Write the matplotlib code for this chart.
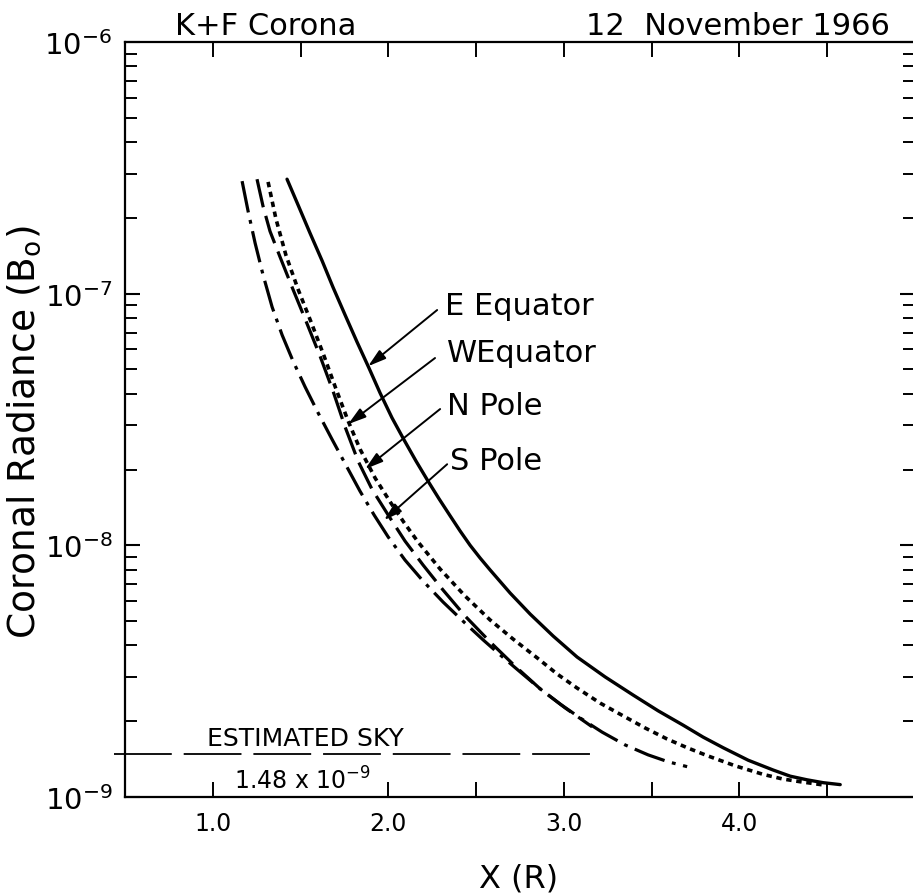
import matplotlib
matplotlib.use("Agg")
import matplotlib.pyplot as plt
from matplotlib.ticker import FixedLocator, FixedFormatter, LogLocator, NullFormatter
import numpy as np

plt.rcParams['font.family'] = ['DejaVu Sans']
plt.rcParams['mathtext.fontset'] = 'dejavusans'

# Distance from sun centre (solar radii) and K+F coronal radiance (units of B_o)
e_equator_x = [1.423, 1.486, 1.554, 1.623, 1.685, 1.754, 1.822, 1.890, 1.953, 2.021,
               2.090, 2.158, 2.226, 2.289, 2.352, 2.409, 2.466, 2.523, 2.580, 2.694,
               2.808, 2.939, 3.075, 3.235, 3.395, 3.537, 3.679, 3.793, 3.907, 4.050,
               4.192, 4.289, 4.386, 4.477, 4.574]
e_equator_y = [2.85e-7, 2.25e-7, 1.74e-7, 1.35e-7, 1.06e-7, 8.22e-8, 6.42e-8, 5.06e-8,
               4.03e-8, 3.21e-8, 2.62e-8, 2.16e-8, 1.80e-8, 1.53e-8, 1.31e-8, 1.14e-8,
               1.00e-8, 8.90e-9, 7.98e-9, 6.46e-9, 5.33e-9, 4.36e-9, 3.60e-9, 3.00e-9,
               2.54e-9, 2.20e-9, 1.93e-9, 1.73e-9, 1.57e-9, 1.40e-9, 1.28e-9, 1.21e-9,
               1.17e-9, 1.14e-9, 1.12e-9]

w_equator_x = [1.315, 1.360, 1.417, 1.486, 1.560, 1.634, 1.702, 1.771, 1.839, 1.925,
               2.010, 2.090, 2.170, 2.295, 2.437, 2.580, 2.711, 2.848, 2.962, 3.075,
               3.207, 3.338, 3.463, 3.588, 3.702, 3.816, 3.976, 4.135, 4.244, 4.346,
               4.426, 4.500]
w_equator_y = [2.78e-7, 1.98e-7, 1.42e-7, 1.04e-7, 7.71e-8, 5.65e-8, 4.18e-8, 3.12e-8,
               2.41e-8, 1.85e-8, 1.49e-8, 1.23e-8, 1.03e-8, 8.05e-9, 6.29e-9, 5.05e-9,
               4.24e-9, 3.57e-9, 3.08e-9, 2.71e-9, 2.36e-9, 2.10e-9, 1.88e-9, 1.70e-9,
               1.57e-9, 1.46e-9, 1.33e-9, 1.23e-9, 1.18e-9, 1.15e-9, 1.13e-9, 1.11e-9]

n_pole_x = [1.252, 1.286, 1.326, 1.383, 1.452, 1.531, 1.611, 1.685, 1.754, 1.828,
            1.907, 1.999, 2.095, 2.198, 2.312, 2.437, 2.580, 2.722, 2.865, 3.007, 3.161]
n_pole_y = [2.85e-7, 2.23e-7, 1.77e-7, 1.40e-7, 1.06e-7, 7.78e-8, 5.65e-8, 4.10e-8,
            2.95e-8, 2.16e-8, 1.67e-8, 1.32e-8, 1.04e-8, 8.35e-9, 6.64e-9, 5.24e-9,
            4.13e-9, 3.31e-9, 2.69e-9, 2.26e-9, 1.90e-9]

s_pole_x = [1.167, 1.201, 1.241, 1.286, 1.338, 1.395, 1.457, 1.526, 1.600, 1.679,
            1.759, 1.839, 1.919, 1.999, 2.095, 2.198, 2.312, 2.437, 2.540, 2.637,
            2.751, 2.865, 2.979, 3.093, 3.218, 3.349, 3.480, 3.594, 3.702]
s_pole_y = [2.80e-7, 2.13e-7, 1.59e-7, 1.19e-7, 8.85e-8, 6.85e-8, 5.40e-8, 4.26e-8,
            3.36e-8, 2.64e-8, 2.08e-8, 1.64e-8, 1.32e-8, 1.08e-8, 8.74e-9, 7.21e-9,
            5.95e-9, 4.91e-9, 4.21e-9, 3.67e-9, 3.14e-9, 2.69e-9, 2.34e-9, 2.06e-9,
            1.81e-9, 1.61e-9, 1.47e-9, 1.38e-9, 1.32e-9]

sky_level = 1.48e-9
sky_x = [0.44, 3.16]

x_major = [1.0, 2.0, 3.0, 4.0]
x_minor = [1.5, 2.5, 3.5, 4.5]
x_labels = ['1.0', '2.0', '3.0', '4.0']
y_major = [1e-9, 1e-8, 1e-7, 1e-6]
y_labels = [r'$10^{-9}$', r'$10^{-8}$', r'$10^{-7}$', r'$10^{-6}$']

# curve labels: text anchor, arrow tail and arrow tip (data coordinates)
labels = ['E Equator', 'WEquator', 'N Pole', 'S Pole']
label_pos = [(2.323, 8.3e-8), (2.335, 5.4e-8), (2.335, 3.33e-8), (2.352, 2.01e-8)]
arrow_tail = [(2.278, 8.61e-8), (2.266, 5.55e-8), (2.295, 3.48e-8), (2.335, 2.10e-8)]
arrow_tip = [(1.885, 5.15e-8), (1.771, 3.03e-8), (1.868, 2.01e-8), (1.976, 1.26e-8)]

W, H = 913, 895
fig = plt.figure(figsize=(W / 100, H / 100), dpi=100)
ax = fig.add_axes([125 / W, 1 - 798 / H, 790 / W, 755 / H])

ax.plot(e_equator_x, e_equator_y, color='black', lw=2.4,
        solid_capstyle='round', solid_joinstyle='round')
ax.plot(w_equator_x, w_equator_y, color='black', lw=2.6, linestyle=(0, (1.5, 1.3)))
ax.plot(n_pole_x, n_pole_y, color='black', lw=2.3, linestyle=(0, (9, 2.8)))
ax.plot(s_pole_x, s_pole_y, color='black', lw=2.3, linestyle=(0, (10, 2.4, 1.2, 2.4)))

ax.plot(sky_x, [sky_level, sky_level], color='black', lw=1.3,
        linestyle=(0, (32, 6.6)), clip_on=False)
ax.annotate('ESTIMATED SKY', xy=(1.53, sky_level), xytext=(0, 3),
            textcoords='offset points', ha='center', va='bottom', fontsize=18)
ax.annotate(r'1.48 x 10$^{-9}$', xy=(1.51, sky_level), xytext=(0, -9),
            textcoords='offset points', ha='center', va='top', fontsize=17)

for txt, pos, tail, tip in zip(labels, label_pos, arrow_tail, arrow_tip):
    ax.text(pos[0], pos[1], txt, ha='left', va='baseline', fontsize=22)
    ax.annotate('', xy=tip, xytext=tail,
                arrowprops=dict(arrowstyle='-|>,head_length=0.6,head_width=0.18',
                                color='black', lw=1.4, mutation_scale=18,
                                shrinkA=0, shrinkB=0))

ax.set_yscale('log')
ax.set_xlim(0.5, 5.0)
ax.set_ylim(1e-9, 1e-6)

ax.xaxis.set_major_locator(FixedLocator(x_major))
ax.xaxis.set_minor_locator(FixedLocator(x_minor))
ax.xaxis.set_major_formatter(FixedFormatter(x_labels))
ax.yaxis.set_major_locator(FixedLocator(y_major))
ax.yaxis.set_major_formatter(FixedFormatter(y_labels))
ax.yaxis.set_minor_locator(LogLocator(base=10, subs=np.arange(2, 10)))
ax.yaxis.set_minor_formatter(NullFormatter())

ax.tick_params(axis='x', which='both', direction='in', top=True, bottom=True,
               length=11, width=1.4, labelsize=17, pad=10)
ax.tick_params(axis='y', which='major', direction='in', left=True, right=True,
               length=11, width=1.5, labelsize=21, pad=9)
ax.tick_params(axis='y', which='minor', direction='in', left=True, right=True,
               length=8.5, width=1.4)
# the bottom tick at 1.5 sits under the sky-level annotation
ax.xaxis.get_minor_ticks()[0].tick1line.set_visible(False)

for s in ax.spines.values():
    s.set_linewidth(1.6)

fig.text(175 / W, 1 - 35 / H, 'K+F Corona', ha='left', va='baseline', fontsize=22)
fig.text(890 / W, 1 - 35 / H, '12  November 1966', ha='right', va='baseline', fontsize=22)
fig.text(519 / W, 1 - 888 / H, 'X (R)', ha='center', va='baseline', fontsize=23)
fig.text(24 / W, 1 - 432 / H, r'Coronal Radiance (B$_{\mathrm{o}}$)', rotation=90,
         ha='center', va='center', fontsize=27)

fig.savefig('out.png', dpi=100)
